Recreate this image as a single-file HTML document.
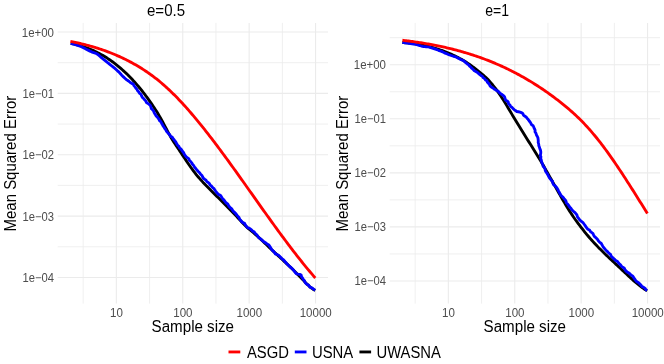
<!DOCTYPE html>
<html><head><meta charset="utf-8"><title>MSE vs sample size</title>
<style>
html,body{margin:0;padding:0;background:#fff;}
svg{display:block;font-family:"Liberation Sans",sans-serif;}
svg{will-change:transform;}
.c path{fill:none;stroke-width:2.85;stroke-linejoin:round;stroke-linecap:butt;}
</style></head>
<body>
<svg width="664" height="364" viewBox="0 0 664 364">
<rect width="664" height="364" fill="#fff"/>
<g>
<line x1="83.15" x2="83.15" y1="22.9" y2="303.6" stroke="#ebebeb" stroke-width="0.8"/>
<line x1="149.55" x2="149.55" y1="22.9" y2="303.6" stroke="#ebebeb" stroke-width="0.8"/>
<line x1="215.95" x2="215.95" y1="22.9" y2="303.6" stroke="#ebebeb" stroke-width="0.8"/>
<line x1="282.35" x2="282.35" y1="22.9" y2="303.6" stroke="#ebebeb" stroke-width="0.8"/>
<line x1="57.7" x2="328.0" y1="62.69" y2="62.69" stroke="#ebebeb" stroke-width="0.8"/>
<line x1="57.7" x2="328.0" y1="124.05" y2="124.05" stroke="#ebebeb" stroke-width="0.8"/>
<line x1="57.7" x2="328.0" y1="185.42" y2="185.42" stroke="#ebebeb" stroke-width="0.8"/>
<line x1="57.7" x2="328.0" y1="246.79" y2="246.79" stroke="#ebebeb" stroke-width="0.8"/>
<line x1="116.35" x2="116.35" y1="22.9" y2="303.6" stroke="#ebebeb" stroke-width="1.1"/>
<text transform="translate(116.50,316.65) scale(0.985,1.03)" font-size="11.73" fill="#4d4d4d" text-anchor="middle">10</text>
<line x1="182.75" x2="182.75" y1="22.9" y2="303.6" stroke="#ebebeb" stroke-width="1.1"/>
<text transform="translate(182.90,316.65) scale(0.985,1.03)" font-size="11.73" fill="#4d4d4d" text-anchor="middle">100</text>
<line x1="249.15" x2="249.15" y1="22.9" y2="303.6" stroke="#ebebeb" stroke-width="1.1"/>
<text transform="translate(249.30,316.65) scale(0.985,1.03)" font-size="11.73" fill="#4d4d4d" text-anchor="middle">1000</text>
<line x1="315.55" x2="315.55" y1="22.9" y2="303.6" stroke="#ebebeb" stroke-width="1.1"/>
<text transform="translate(315.70,316.65) scale(0.985,1.03)" font-size="11.73" fill="#4d4d4d" text-anchor="middle">10000</text>
<line x1="57.7" x2="328.0" y1="32.00" y2="32.00" stroke="#ebebeb" stroke-width="1.1"/>
<text transform="translate(54.00,36.50) scale(0.98,1.03)" font-size="11.73" fill="#4d4d4d" text-anchor="end">1e+00</text>
<line x1="57.7" x2="328.0" y1="93.37" y2="93.37" stroke="#ebebeb" stroke-width="1.1"/>
<text transform="translate(54.00,97.87) scale(0.958,1.03)" font-size="11.73" fill="#4d4d4d" text-anchor="end">1e−01</text>
<line x1="57.7" x2="328.0" y1="154.74" y2="154.74" stroke="#ebebeb" stroke-width="1.1"/>
<text transform="translate(54.00,159.24) scale(0.958,1.03)" font-size="11.73" fill="#4d4d4d" text-anchor="end">1e−02</text>
<line x1="57.7" x2="328.0" y1="216.11" y2="216.11" stroke="#ebebeb" stroke-width="1.1"/>
<text transform="translate(54.00,220.61) scale(0.958,1.03)" font-size="11.73" fill="#4d4d4d" text-anchor="end">1e−03</text>
<line x1="57.7" x2="328.0" y1="277.48" y2="277.48" stroke="#ebebeb" stroke-width="1.1"/>
<text transform="translate(54.00,281.98) scale(0.958,1.03)" font-size="11.73" fill="#4d4d4d" text-anchor="end">1e−04</text>
<text transform="translate(166.00,15.90) scale(1.025,1.09)" font-size="14.67" fill="#000" text-anchor="middle">e=0.5</text>
<text transform="translate(192.80,332.40) scale(1.033,1.09)" font-size="14.67" fill="#000" text-anchor="middle">Sample size</text>
<text transform="translate(15.80,163.65) rotate(-90) scale(1.022,1.09)" font-size="14.67" fill="#000" text-anchor="middle">Mean Squared Error</text>
</g>
<g>
<line x1="415.15" x2="415.15" y1="22.9" y2="303.6" stroke="#ebebeb" stroke-width="0.8"/>
<line x1="481.55" x2="481.55" y1="22.9" y2="303.6" stroke="#ebebeb" stroke-width="0.8"/>
<line x1="547.95" x2="547.95" y1="22.9" y2="303.6" stroke="#ebebeb" stroke-width="0.8"/>
<line x1="614.35" x2="614.35" y1="22.9" y2="303.6" stroke="#ebebeb" stroke-width="0.8"/>
<line x1="389.7" x2="660.0" y1="37.67" y2="37.67" stroke="#ebebeb" stroke-width="0.8"/>
<line x1="389.7" x2="660.0" y1="91.73" y2="91.73" stroke="#ebebeb" stroke-width="0.8"/>
<line x1="389.7" x2="660.0" y1="145.81" y2="145.81" stroke="#ebebeb" stroke-width="0.8"/>
<line x1="389.7" x2="660.0" y1="199.88" y2="199.88" stroke="#ebebeb" stroke-width="0.8"/>
<line x1="389.7" x2="660.0" y1="253.94" y2="253.94" stroke="#ebebeb" stroke-width="0.8"/>
<line x1="448.35" x2="448.35" y1="22.9" y2="303.6" stroke="#ebebeb" stroke-width="1.1"/>
<text transform="translate(448.50,316.65) scale(0.985,1.03)" font-size="11.73" fill="#4d4d4d" text-anchor="middle">10</text>
<line x1="514.75" x2="514.75" y1="22.9" y2="303.6" stroke="#ebebeb" stroke-width="1.1"/>
<text transform="translate(514.90,316.65) scale(0.985,1.03)" font-size="11.73" fill="#4d4d4d" text-anchor="middle">100</text>
<line x1="581.15" x2="581.15" y1="22.9" y2="303.6" stroke="#ebebeb" stroke-width="1.1"/>
<text transform="translate(581.30,316.65) scale(0.985,1.03)" font-size="11.73" fill="#4d4d4d" text-anchor="middle">1000</text>
<line x1="647.55" x2="647.55" y1="22.9" y2="303.6" stroke="#ebebeb" stroke-width="1.1"/>
<text transform="translate(647.70,316.65) scale(0.985,1.03)" font-size="11.73" fill="#4d4d4d" text-anchor="middle">10000</text>
<line x1="389.7" x2="660.0" y1="64.70" y2="64.70" stroke="#ebebeb" stroke-width="1.1"/>
<text transform="translate(386.00,69.20) scale(0.98,1.03)" font-size="11.73" fill="#4d4d4d" text-anchor="end">1e+00</text>
<line x1="389.7" x2="660.0" y1="118.77" y2="118.77" stroke="#ebebeb" stroke-width="1.1"/>
<text transform="translate(386.00,123.27) scale(0.958,1.03)" font-size="11.73" fill="#4d4d4d" text-anchor="end">1e−01</text>
<line x1="389.7" x2="660.0" y1="172.84" y2="172.84" stroke="#ebebeb" stroke-width="1.1"/>
<text transform="translate(386.00,177.34) scale(0.958,1.03)" font-size="11.73" fill="#4d4d4d" text-anchor="end">1e−02</text>
<line x1="389.7" x2="660.0" y1="226.91" y2="226.91" stroke="#ebebeb" stroke-width="1.1"/>
<text transform="translate(386.00,231.41) scale(0.958,1.03)" font-size="11.73" fill="#4d4d4d" text-anchor="end">1e−03</text>
<line x1="389.7" x2="660.0" y1="280.98" y2="280.98" stroke="#ebebeb" stroke-width="1.1"/>
<text transform="translate(386.00,285.48) scale(0.958,1.03)" font-size="11.73" fill="#4d4d4d" text-anchor="end">1e−04</text>
<text transform="translate(485.30,15.90) scale(0.957,1.09)" font-size="14.67" fill="#000" text-anchor="start">e=1</text>
<text transform="translate(524.80,332.40) scale(1.033,1.09)" font-size="14.67" fill="#000" text-anchor="middle">Sample size</text>
<text transform="translate(347.80,163.65) rotate(-90) scale(1.022,1.09)" font-size="14.67" fill="#000" text-anchor="middle">Mean Squared Error</text>
</g>
<g class="c">
<path d="M70.70,43.38 L71.93,43.63 L73.16,43.89 L74.39,44.17 L75.61,44.46 L76.84,44.76 L78.07,45.09 L79.30,45.43 L80.53,45.78 L81.76,46.16 L82.99,46.55 L84.22,46.96 L85.44,47.38 L86.67,47.82 L87.90,48.29 L89.13,48.77 L90.36,49.27 L91.59,49.78 L92.82,50.32 L94.04,50.88 L95.27,51.45 L96.50,52.05 L97.73,52.67 L98.96,53.31 L100.19,53.97 L101.42,54.65 L102.64,55.35 L103.87,56.07 L105.10,56.82 L106.33,57.58 L107.56,58.37 L108.79,59.19 L110.02,60.02 L111.25,60.88 L112.47,61.77 L113.70,62.67 L114.93,63.60 L116.16,64.56 L117.39,65.54 L118.62,66.55 L119.85,67.58 L121.07,68.63 L122.30,69.71 L123.53,70.82 L124.76,71.96 L125.99,73.12 L127.22,74.30 L128.45,75.52 L129.67,76.76 L130.90,78.03 L132.13,79.33 L133.36,80.66 L134.59,82.01 L135.82,83.39 L137.05,84.81 L138.28,86.25 L139.50,87.72 L140.73,89.22 L141.96,90.75 L143.19,92.31 L144.42,93.91 L145.65,95.53 L146.88,97.18 L148.10,98.87 L149.33,100.59 L150.56,102.33 L151.79,104.12 L153.02,105.93 L154.25,107.78 L155.48,109.67 L156.71,111.61 L157.93,113.60 L159.16,115.65 L160.39,117.77 L161.62,119.96 L162.85,122.22 L164.08,124.55 L165.31,126.90 L166.53,129.26 L167.76,131.59 L168.99,133.88 L170.22,136.08 L171.45,138.19 L172.68,140.19 L173.91,142.13 L175.13,144.01 L176.36,145.85 L177.59,147.69 L178.82,149.53 L180.05,151.38 L181.28,153.23 L182.51,155.09 L183.74,156.94 L184.96,158.78 L186.19,160.62 L187.42,162.43 L188.65,164.22 L189.88,165.99 L191.11,167.73 L192.34,169.43 L193.56,171.09 L194.79,172.71 L196.02,174.28 L197.25,175.80 L198.48,177.26 L199.71,178.68 L200.94,180.06 L202.16,181.40 L203.39,182.72 L204.62,184.01 L205.85,185.28 L207.08,186.54 L208.31,187.79 L209.54,189.03 L210.77,190.27 L211.99,191.50 L213.22,192.73 L214.45,193.95 L215.68,195.17 L216.91,196.39 L218.14,197.61 L219.37,198.83 L220.59,200.05 L221.82,201.28 L223.05,202.50 L224.28,203.73 L225.51,204.96 L226.74,206.20 L227.97,207.45 L229.19,208.70 L230.42,209.96 L231.65,211.22 L232.88,212.50 L234.11,213.79 L235.34,215.08 L236.57,216.39 L237.80,217.71 L239.02,219.05 L240.25,220.39 L241.48,221.72 L242.71,223.04 L243.94,224.32 L245.17,225.57 L246.40,226.75 L247.62,227.88 L248.85,228.96 L250.08,229.99 L251.31,231.00 L252.54,232.01 L253.77,233.02 L255.00,234.05 L256.23,235.12 L257.45,236.21 L258.68,237.33 L259.91,238.47 L261.14,239.62 L262.37,240.79 L263.60,241.97 L264.83,243.16 L266.05,244.35 L267.28,245.53 L268.51,246.71 L269.74,247.88 L270.97,249.05 L272.20,250.20 L273.43,251.35 L274.65,252.49 L275.88,253.63 L277.11,254.77 L278.34,255.90 L279.57,257.04 L280.80,258.17 L282.03,259.31 L283.26,260.44 L284.48,261.59 L285.71,262.73 L286.94,263.88 L288.17,265.04 L289.40,266.20 L290.63,267.38 L291.86,268.56 L293.08,269.76 L294.31,270.97 L295.54,272.19 L296.77,273.42 L298.00,274.67 L299.23,275.94 L300.46,277.22 L301.68,278.52 L302.91,279.83 L304.14,281.13 L305.37,282.41 L306.60,283.66 L307.83,284.86 L309.06,286.00 L310.29,287.08 L311.51,288.07 L312.74,288.96 L313.97,289.74 L315.20,290.40" stroke="#000" />
<path d="M70.70,43.40 L72.27,43.78 L73.81,44.24 L75.36,44.68 L76.90,45.12 L78.46,45.54 L79.98,46.06 L81.48,46.64 L82.88,47.42 L84.33,48.13 L85.73,48.91 L87.16,49.66 L88.60,50.38 L90.02,51.13 L91.46,51.82 L92.98,52.36 L94.50,52.88 L96.04,53.35 L97.41,54.17 L98.65,55.19 L99.86,56.26 L101.08,57.30 L102.36,58.29 L103.60,59.30 L104.85,60.32 L106.10,61.33 L107.33,62.37 L108.62,63.34 L109.83,64.40 L111.08,65.42 L112.37,66.38 L113.61,67.40 L114.88,68.40 L116.07,69.47 L117.23,70.59 L118.44,71.65 L119.60,72.77 L120.69,73.96 L121.74,75.19 L122.85,76.35 L124.05,77.43 L125.21,78.55 L126.41,79.63 L127.77,80.51 L129.06,81.47 L130.31,82.49 L131.67,83.36 L133.24,84.07 L133.94,85.63 L135.02,86.84 L135.91,88.18 L136.99,89.38 L137.70,90.86 L138.82,92.03 L139.68,93.40 L141.05,94.35 L141.59,95.99 L142.33,97.48 L143.60,98.51 L144.64,99.74 L145.77,100.89 L146.39,102.47 L147.75,103.43 L149.15,104.35 L150.35,105.45 L150.90,107.08 L151.43,108.72 L152.59,109.85 L153.63,111.03 L154.12,112.55 L154.97,113.92 L155.79,115.31 L156.74,116.62 L157.92,117.81 L158.87,119.13 L159.53,120.60 L160.79,121.67 L161.54,123.08 L162.33,124.50 L163.04,125.97 L164.00,127.26 L164.88,128.61 L165.86,129.89 L166.54,131.40 L167.62,132.61 L168.68,133.82 L169.87,134.92 L170.53,136.47 L172.24,137.14 L173.00,138.60 L174.11,139.77 L175.10,141.04 L176.01,142.37 L176.75,143.83 L177.62,145.20 L178.85,146.28 L179.50,147.81 L180.82,148.82 L181.72,150.16 L182.63,151.49 L183.69,152.70 L184.33,154.24 L185.27,155.54 L186.24,156.82 L187.58,157.83 L188.89,158.86 L189.46,160.45 L190.69,161.53 L191.70,162.79 L192.49,164.22 L193.60,165.39 L194.37,166.82 L195.42,168.05 L196.40,169.32 L197.39,170.60 L198.49,171.77 L199.69,172.85 L200.58,174.22 L201.77,175.31 L202.58,176.75 L203.33,178.25 L204.64,179.23 L206.03,180.13 L206.82,181.59 L208.23,182.48 L209.43,183.57 L210.11,185.13 L211.50,186.04 L212.46,187.34 L213.76,188.34 L214.63,189.72 L215.60,191.02 L216.60,192.28 L217.58,193.55 L218.74,194.67 L220.40,195.35 L221.33,196.68 L222.17,198.08 L223.24,199.28 L224.31,200.49 L225.30,201.76 L226.29,203.03 L227.71,203.93 L228.45,205.41 L229.42,206.70 L230.51,207.88 L231.81,208.91 L232.66,210.28 L233.62,211.58 L234.84,212.66 L235.95,213.83 L236.90,215.13 L237.95,216.34 L239.02,217.53 L239.70,219.08 L240.74,220.31 L241.71,221.60 L242.91,222.69 L244.57,223.35 L245.29,224.88 L246.28,226.14 L247.26,227.48 L248.89,228.03 L250.24,228.91 L251.54,229.87 L252.54,231.19 L254.13,231.80 L255.04,233.22 L256.22,234.32 L257.36,235.45 L258.15,236.96 L259.29,238.09 L260.76,238.89 L261.89,240.03 L263.08,241.12 L264.38,242.09 L265.83,242.88 L267.03,243.96 L268.51,244.73 L269.54,246.01 L270.44,247.39 L271.28,248.83 L272.20,250.19 L273.42,251.24 L274.51,252.43 L275.30,253.92 L277.03,254.46 L278.57,255.17 L279.64,256.39 L280.85,257.45 L281.88,258.71 L283.22,259.63 L284.37,260.76 L285.37,262.04 L286.45,263.23 L287.56,264.40 L288.63,265.61 L289.88,266.63 L291.10,267.69 L292.26,268.81 L293.41,269.93 L294.37,271.23 L295.33,272.54 L296.42,273.78 L298.03,274.12 L299.64,274.38 L301.14,275.14 L301.60,276.88 L302.63,278.14 L303.34,279.59 L304.53,280.75 L305.03,282.35 L306.10,283.56 L307.39,284.54 L308.81,285.35 L309.61,286.91 L311.12,287.60 L312.58,288.33 L313.83,289.35 L315.20,290.20" stroke="#0000ff" />
<path d="M70.40,41.35 L71.63,41.60 L72.86,41.85 L74.09,42.11 L75.32,42.37 L76.55,42.64 L77.78,42.92 L79.01,43.20 L80.25,43.49 L81.48,43.78 L82.71,44.08 L83.94,44.39 L85.17,44.70 L86.40,45.02 L87.63,45.34 L88.86,45.68 L90.09,46.02 L91.32,46.37 L92.55,46.72 L93.78,47.08 L95.01,47.45 L96.24,47.83 L97.47,48.22 L98.71,48.61 L99.94,49.01 L101.17,49.42 L102.40,49.84 L103.63,50.27 L104.86,50.71 L106.09,51.15 L107.32,51.61 L108.55,52.07 L109.78,52.54 L111.01,53.02 L112.24,53.52 L113.47,54.02 L114.70,54.53 L115.93,55.05 L117.16,55.58 L118.40,56.12 L119.63,56.67 L120.86,57.24 L122.09,57.81 L123.32,58.39 L124.55,58.99 L125.78,59.59 L127.01,60.21 L128.24,60.84 L129.47,61.48 L130.70,62.13 L131.93,62.79 L133.16,63.47 L134.39,64.16 L135.62,64.86 L136.86,65.57 L138.09,66.30 L139.32,67.04 L140.55,67.79 L141.78,68.56 L143.01,69.34 L144.24,70.14 L145.47,70.95 L146.70,71.78 L147.93,72.62 L149.16,73.48 L150.39,74.36 L151.62,75.25 L152.85,76.16 L154.08,77.08 L155.32,78.03 L156.55,78.99 L157.78,79.96 L159.01,80.96 L160.24,81.98 L161.47,83.01 L162.70,84.06 L163.93,85.13 L165.16,86.22 L166.39,87.33 L167.62,88.46 L168.85,89.61 L170.08,90.77 L171.31,91.95 L172.54,93.15 L173.77,94.37 L175.01,95.60 L176.24,96.85 L177.47,98.11 L178.70,99.39 L179.93,100.69 L181.16,102.00 L182.39,103.33 L183.62,104.67 L184.85,106.02 L186.08,107.39 L187.31,108.78 L188.54,110.18 L189.77,111.59 L191.00,113.01 L192.23,114.45 L193.47,115.90 L194.70,117.36 L195.93,118.83 L197.16,120.32 L198.39,121.82 L199.62,123.32 L200.85,124.84 L202.08,126.37 L203.31,127.91 L204.54,129.46 L205.77,131.02 L207.00,132.59 L208.23,134.17 L209.46,135.76 L210.69,137.36 L211.93,138.96 L213.16,140.57 L214.39,142.19 L215.62,143.82 L216.85,145.46 L218.08,147.10 L219.31,148.75 L220.54,150.40 L221.77,152.07 L223.00,153.73 L224.23,155.41 L225.46,157.09 L226.69,158.77 L227.92,160.46 L229.15,162.15 L230.38,163.85 L231.62,165.56 L232.85,167.26 L234.08,168.98 L235.31,170.69 L236.54,172.41 L237.77,174.13 L239.00,175.85 L240.23,177.58 L241.46,179.31 L242.69,181.04 L243.92,182.77 L245.15,184.51 L246.38,186.24 L247.61,187.98 L248.84,189.72 L250.08,191.46 L251.31,193.19 L252.54,194.93 L253.77,196.67 L255.00,198.41 L256.23,200.15 L257.46,201.88 L258.69,203.62 L259.92,205.35 L261.15,207.09 L262.38,208.82 L263.61,210.55 L264.84,212.27 L266.07,214.00 L267.30,215.72 L268.54,217.43 L269.77,219.15 L271.00,220.86 L272.23,222.57 L273.46,224.27 L274.69,225.97 L275.92,227.66 L277.15,229.35 L278.38,231.04 L279.61,232.72 L280.84,234.39 L282.07,236.06 L283.30,237.72 L284.53,239.37 L285.76,241.02 L286.99,242.66 L288.23,244.30 L289.46,245.93 L290.69,247.55 L291.92,249.16 L293.15,250.76 L294.38,252.36 L295.61,253.95 L296.84,255.53 L298.07,257.10 L299.30,258.66 L300.53,260.21 L301.76,261.75 L302.99,263.28 L304.22,264.80 L305.45,266.31 L306.69,267.81 L307.92,269.30 L309.15,270.78 L310.38,272.24 L311.61,273.70 L312.84,275.14 L314.07,276.57 L315.30,277.99" stroke="#ff0000" />
</g>
<g class="c">
<path d="M402.40,42.51 L403.63,42.60 L404.86,42.71 L406.09,42.82 L407.32,42.93 L408.55,43.06 L409.78,43.20 L411.01,43.34 L412.24,43.50 L413.47,43.66 L414.70,43.84 L415.93,44.02 L417.16,44.21 L418.39,44.42 L419.62,44.63 L420.84,44.86 L422.07,45.09 L423.30,45.34 L424.53,45.59 L425.76,45.86 L426.99,46.14 L428.22,46.43 L429.45,46.74 L430.68,47.05 L431.91,47.38 L433.14,47.72 L434.37,48.07 L435.60,48.43 L436.83,48.81 L438.06,49.20 L439.29,49.61 L440.52,50.02 L441.75,50.46 L442.98,50.90 L444.21,51.36 L445.44,51.83 L446.67,52.32 L447.90,52.82 L449.13,53.34 L450.36,53.87 L451.59,54.42 L452.82,54.98 L454.05,55.56 L455.27,56.15 L456.50,56.76 L457.73,57.39 L458.96,58.03 L460.19,58.69 L461.42,59.37 L462.65,60.07 L463.88,60.80 L465.11,61.54 L466.34,62.31 L467.57,63.11 L468.80,63.93 L470.03,64.78 L471.26,65.65 L472.49,66.54 L473.72,67.45 L474.95,68.38 L476.18,69.32 L477.41,70.28 L478.64,71.25 L479.87,72.24 L481.10,73.24 L482.33,74.28 L483.56,75.35 L484.79,76.46 L486.02,77.62 L487.25,78.83 L488.48,80.11 L489.71,81.44 L490.93,82.83 L492.16,84.28 L493.39,85.79 L494.62,87.36 L495.85,88.98 L497.08,90.66 L498.31,92.40 L499.54,94.18 L500.77,96.02 L502.00,97.91 L503.23,99.85 L504.46,101.83 L505.69,103.84 L506.92,105.87 L508.15,107.93 L509.38,109.99 L510.61,112.06 L511.84,114.13 L513.07,116.19 L514.30,118.23 L515.53,120.27 L516.76,122.30 L517.99,124.32 L519.22,126.33 L520.45,128.33 L521.68,130.32 L522.91,132.30 L524.14,134.28 L525.36,136.25 L526.59,138.21 L527.82,140.17 L529.05,142.12 L530.28,144.07 L531.51,146.01 L532.74,147.97 L533.97,149.93 L535.20,151.91 L536.43,153.90 L537.66,155.91 L538.89,157.95 L540.12,160.01 L541.35,162.09 L542.58,164.19 L543.81,166.30 L545.04,168.44 L546.27,170.59 L547.50,172.75 L548.73,174.92 L549.96,177.10 L551.19,179.29 L552.42,181.48 L553.65,183.68 L554.88,185.88 L556.11,188.08 L557.34,190.28 L558.57,192.46 L559.79,194.63 L561.02,196.79 L562.25,198.92 L563.48,201.03 L564.71,203.12 L565.94,205.18 L567.17,207.20 L568.40,209.18 L569.63,211.13 L570.86,213.04 L572.09,214.90 L573.32,216.71 L574.55,218.48 L575.78,220.21 L577.01,221.90 L578.24,223.57 L579.47,225.20 L580.70,226.82 L581.93,228.41 L583.16,229.98 L584.39,231.53 L585.62,233.06 L586.85,234.56 L588.08,236.03 L589.31,237.47 L590.54,238.89 L591.77,240.28 L593.00,241.64 L594.23,242.98 L595.45,244.30 L596.68,245.60 L597.91,246.87 L599.14,248.13 L600.37,249.37 L601.60,250.60 L602.83,251.81 L604.06,253.01 L605.29,254.19 L606.52,255.37 L607.75,256.54 L608.98,257.70 L610.21,258.85 L611.44,260.00 L612.67,261.15 L613.90,262.29 L615.13,263.44 L616.36,264.58 L617.59,265.73 L618.82,266.88 L620.05,268.03 L621.28,269.19 L622.51,270.35 L623.74,271.52 L624.97,272.67 L626.20,273.83 L627.43,274.98 L628.66,276.12 L629.88,277.25 L631.11,278.37 L632.34,279.48 L633.57,280.57 L634.80,281.64 L636.03,282.69 L637.26,283.72 L638.49,284.73 L639.72,285.71 L640.95,286.66 L642.18,287.58 L643.41,288.46 L644.64,289.32 L645.87,290.14 L647.10,290.91" stroke="#000" />
<path d="M402.40,42.50 L404.00,42.70 L405.60,42.93 L407.19,43.14 L408.80,43.27 L410.39,43.56 L411.99,43.78 L413.59,43.97 L415.19,44.16 L416.72,44.65 L418.29,45.05 L419.83,45.52 L421.36,46.02 L422.92,46.46 L424.53,46.58 L426.14,46.71 L427.74,46.85 L429.34,47.05 L430.83,47.62 L432.35,48.14 L433.87,48.68 L435.40,49.20 L436.93,49.72 L438.44,50.28 L439.97,50.78 L441.47,51.37 L442.92,52.09 L444.37,52.80 L445.88,53.38 L447.35,54.04 L448.80,54.73 L450.34,55.24 L451.87,55.74 L453.39,56.28 L454.96,56.68 L456.46,57.27 L457.87,58.07 L459.37,58.66 L460.77,59.47 L462.26,60.09 L463.68,60.80 L464.88,61.86 L466.06,62.96 L467.30,64.00 L468.68,64.87 L469.62,66.23 L470.88,67.24 L471.97,68.45 L473.21,69.49 L474.33,70.65 L475.78,71.43 L477.18,72.28 L478.38,73.35 L479.54,74.48 L480.82,75.45 L482.29,76.19 L483.19,77.65 L484.53,78.56 L485.49,79.94 L486.86,80.73 L487.39,82.22 L488.59,83.39 L489.52,84.72 L490.20,86.21 L491.49,87.16 L492.94,87.89 L494.08,89.09 L495.51,89.85 L496.91,90.65 L498.39,91.37 L499.44,92.65 L500.65,93.72 L502.09,94.53 L503.36,95.58 L504.52,96.76 L505.06,98.37 L505.53,100.04 L507.08,100.89 L508.24,102.03 L508.56,103.81 L509.86,104.85 L510.62,106.29 L511.88,107.36 L512.96,108.47 L514.10,109.60 L515.42,110.55 L516.80,111.49 L518.45,111.75 L519.95,112.10 L521.31,112.61 L522.75,113.41 L523.42,115.02 L524.68,116.04 L526.06,116.94 L527.07,118.20 L528.13,119.42 L529.06,120.74 L530.09,121.98 L530.91,123.38 L531.64,124.85 L533.15,125.73 L533.80,127.25 L534.36,128.73 L535.08,130.15 L535.04,131.86 L535.99,133.25 L536.41,134.81 L537.19,136.25 L537.88,137.72 L538.12,139.33 L538.28,140.94 L538.21,142.60 L538.72,144.15 L538.84,145.77 L539.43,147.29 L539.90,148.83 L540.57,150.37 L540.81,151.97 L540.71,153.60 L540.31,155.26 L540.91,156.82 L540.72,158.46 L541.29,160.01 L541.52,161.64 L542.12,163.14 L542.89,164.56 L543.11,166.22 L544.26,167.49 L545.08,168.89 L545.25,170.59 L546.04,172.02 L546.99,173.33 L547.80,174.72 L548.49,176.19 L549.26,177.61 L550.23,178.90 L551.27,180.16 L552.48,181.32 L552.75,183.03 L553.43,184.51 L554.80,185.56 L555.90,186.77 L556.96,188.01 L557.81,189.38 L558.46,190.87 L559.27,192.27 L560.09,193.66 L560.73,195.16 L561.94,196.26 L563.12,197.37 L564.12,198.64 L565.17,199.86 L566.05,201.22 L566.44,202.96 L567.63,204.07 L568.59,205.36 L569.47,206.73 L570.56,207.92 L571.52,209.22 L572.57,210.44 L573.76,211.54 L575.04,212.58 L576.06,213.82 L576.97,215.17 L577.46,216.85 L578.46,218.12 L579.36,219.46 L580.43,220.68 L581.71,221.71 L583.02,222.72 L583.99,224.00 L584.99,225.27 L585.86,226.65 L586.78,227.98 L587.88,229.16 L589.47,229.93 L590.24,231.38 L591.49,232.41 L592.84,233.34 L593.55,234.89 L594.31,236.39 L595.57,237.42 L596.68,238.59 L597.78,239.77 L598.64,241.15 L599.74,242.34 L601.13,243.28 L601.96,244.68 L602.75,246.13 L603.60,247.51 L604.71,248.69 L605.68,249.99 L606.92,251.05 L607.97,252.27 L609.18,253.35 L610.48,254.34 L611.09,255.97 L612.10,257.23 L613.38,258.24 L614.56,259.35 L615.69,260.50 L617.19,261.28 L618.23,262.52 L619.30,263.73 L620.49,264.82 L621.42,266.17 L622.65,267.22 L624.13,268.02 L624.94,269.49 L625.87,270.85 L627.07,271.93 L628.46,272.78 L629.82,273.68 L630.83,274.98 L632.30,275.75 L633.35,277.01 L634.19,278.42 L635.17,279.71 L636.09,281.04 L637.43,282.01 L638.84,282.92 L639.93,284.06 L641.02,285.21 L642.04,286.51 L643.46,287.30 L644.88,288.12 L645.78,289.56 L647.10,290.50" stroke="#0000ff" />
<path d="M402.40,40.28 L403.63,40.42 L404.86,40.57 L406.09,40.72 L407.32,40.87 L408.56,41.03 L409.79,41.19 L411.02,41.35 L412.25,41.52 L413.48,41.69 L414.71,41.86 L415.94,42.04 L417.17,42.22 L418.41,42.40 L419.64,42.59 L420.87,42.78 L422.10,42.98 L423.33,43.18 L424.56,43.38 L425.79,43.59 L427.02,43.80 L428.25,44.01 L429.49,44.23 L430.72,44.46 L431.95,44.68 L433.18,44.92 L434.41,45.15 L435.64,45.39 L436.87,45.64 L438.10,45.89 L439.33,46.14 L440.57,46.40 L441.80,46.66 L443.03,46.93 L444.26,47.21 L445.49,47.48 L446.72,47.77 L447.95,48.05 L449.18,48.35 L450.42,48.64 L451.65,48.95 L452.88,49.25 L454.11,49.57 L455.34,49.89 L456.57,50.21 L457.80,50.54 L459.03,50.87 L460.26,51.21 L461.50,51.56 L462.73,51.91 L463.96,52.27 L465.19,52.63 L466.42,53.00 L467.65,53.37 L468.88,53.75 L470.11,54.14 L471.34,54.53 L472.58,54.93 L473.81,55.33 L475.04,55.74 L476.27,56.16 L477.50,56.58 L478.73,57.01 L479.96,57.44 L481.19,57.88 L482.43,58.33 L483.66,58.79 L484.89,59.25 L486.12,59.72 L487.35,60.19 L488.58,60.67 L489.81,61.16 L491.04,61.65 L492.27,62.15 L493.51,62.66 L494.74,63.18 L495.97,63.70 L497.20,64.23 L498.43,64.77 L499.66,65.31 L500.89,65.86 L502.12,66.42 L503.35,66.98 L504.59,67.56 L505.82,68.14 L507.05,68.73 L508.28,69.32 L509.51,69.93 L510.74,70.54 L511.97,71.16 L513.20,71.78 L514.44,72.42 L515.67,73.06 L516.90,73.71 L518.13,74.37 L519.36,75.03 L520.59,75.71 L521.82,76.39 L523.05,77.08 L524.28,77.78 L525.52,78.49 L526.75,79.20 L527.98,79.93 L529.21,80.66 L530.44,81.40 L531.67,82.15 L532.90,82.91 L534.13,83.68 L535.36,84.46 L536.60,85.24 L537.83,86.03 L539.06,86.84 L540.29,87.65 L541.52,88.47 L542.75,89.30 L543.98,90.14 L545.21,90.99 L546.45,91.84 L547.68,92.71 L548.91,93.59 L550.14,94.47 L551.37,95.37 L552.60,96.27 L553.83,97.19 L555.06,98.11 L556.29,99.04 L557.53,99.99 L558.76,100.94 L559.99,101.90 L561.22,102.88 L562.45,103.86 L563.68,104.85 L564.91,105.86 L566.14,106.87 L567.37,107.90 L568.61,108.95 L569.84,110.01 L571.07,111.08 L572.30,112.17 L573.53,113.28 L574.76,114.40 L575.99,115.55 L577.22,116.71 L578.46,117.89 L579.69,119.09 L580.92,120.32 L582.15,121.56 L583.38,122.83 L584.61,124.13 L585.84,125.44 L587.07,126.78 L588.30,128.14 L589.54,129.52 L590.77,130.92 L592.00,132.35 L593.23,133.80 L594.46,135.27 L595.69,136.76 L596.92,138.27 L598.15,139.81 L599.38,141.36 L600.62,142.94 L601.85,144.55 L603.08,146.17 L604.31,147.81 L605.54,149.48 L606.77,151.16 L608.00,152.86 L609.23,154.59 L610.47,156.32 L611.70,158.08 L612.93,159.85 L614.16,161.64 L615.39,163.44 L616.62,165.26 L617.85,167.09 L619.08,168.94 L620.31,170.79 L621.55,172.66 L622.78,174.54 L624.01,176.43 L625.24,178.33 L626.47,180.24 L627.70,182.15 L628.93,184.08 L630.16,186.01 L631.39,187.95 L632.63,189.89 L633.86,191.84 L635.09,193.79 L636.32,195.74 L637.55,197.70 L638.78,199.66 L640.01,201.63 L641.24,203.59 L642.48,205.55 L643.71,207.52 L644.94,209.48 L646.17,211.44 L647.40,213.40" stroke="#ff0000" />
</g>
<g>
<line x1="228.5" x2="240.3" y1="351.95" y2="351.95" stroke="#ff0000" stroke-width="2.85"/>
<text transform="translate(246.90,357.50) scale(1.01,1.085)" font-size="14.67" fill="#000" text-anchor="start">ASGD</text>
<line x1="294.8" x2="306.5" y1="351.95" y2="351.95" stroke="#0000ff" stroke-width="2.85"/>
<text transform="translate(311.90,357.50) scale(1.015,1.085)" font-size="14.67" fill="#000" text-anchor="start">USNA</text>
<line x1="359.4" x2="371.1" y1="351.95" y2="351.95" stroke="#000" stroke-width="2.85"/>
<text transform="translate(376.50,357.50) scale(1.01,1.085)" font-size="14.67" fill="#000" text-anchor="start">UWASNA</text>
</g>
</svg>
</body></html>
